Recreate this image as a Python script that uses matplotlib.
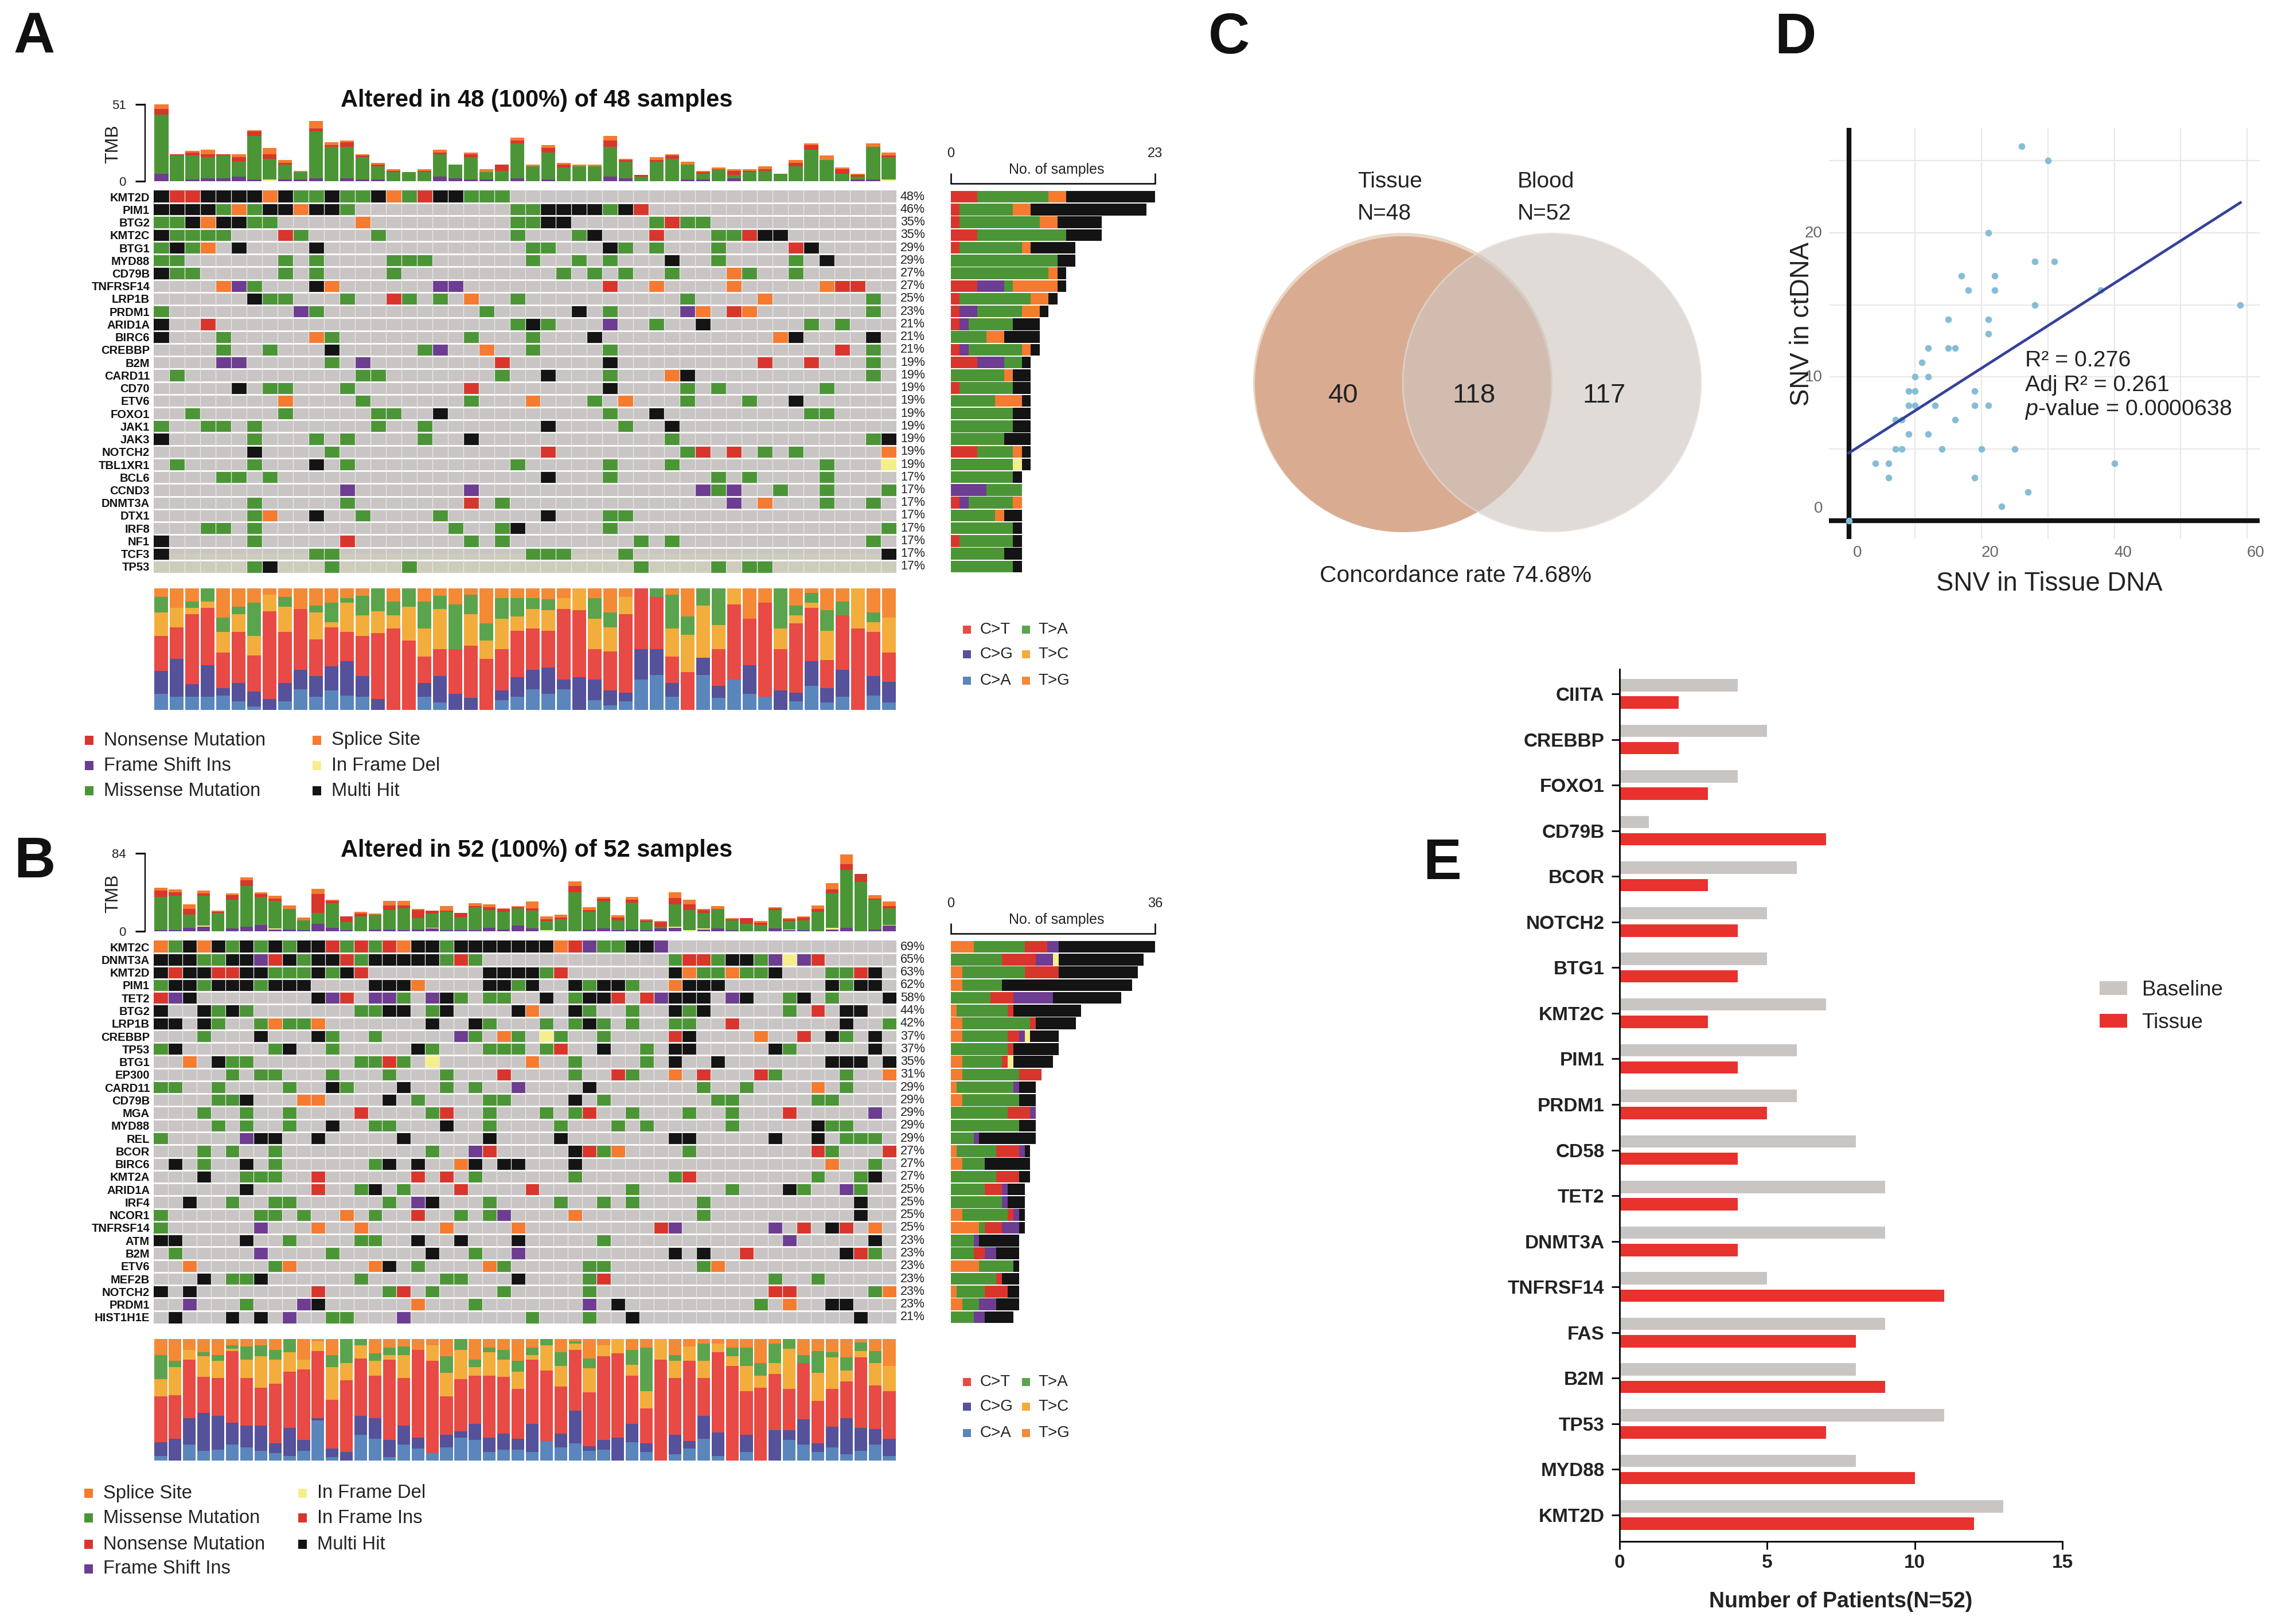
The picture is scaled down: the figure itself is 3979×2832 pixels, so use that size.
#!/usr/bin/env python
# oncoplots (A, B), venn (C), scatter (D), patient bars (E)
import numpy as np
import matplotlib
matplotlib.use("Agg")
import matplotlib.pyplot as plt
from matplotlib.colors import ListedColormap
from matplotlib.patches import Rectangle, Circle
from matplotlib.transforms import ScaledTranslation

plt.rcParams['font.family'] = ['Liberation Sans', 'DejaVu Sans']
plt.rcParams['mathtext.fontset'] = 'custom'
plt.rcParams['mathtext.rm'] = 'Liberation Sans'
plt.rcParams['mathtext.it'] = 'Liberation Sans:italic'

# ---- panel A data
a_genes = ["KMT2D","PIM1","BTG2","KMT2C","BTG1","MYD88","CD79B","TNFRSF14","LRP1B","PRDM1","ARID1A","BIRC6","CREBBP","B2M","CARD11",
           "CD70","ETV6","FOXO1","JAK1","JAK3","NOTCH2","TBL1XR1","BCL6","CCND3","DNMT3A","DTX1","IRF8","NF1","TCF3","TP53"]
a_pct = ["48%","46%","35%","35%","29%","29%","27%","27%","25%","23%","21%","21%","21%","19%","19%",
         "19%","19%","19%","19%","19%","19%","19%","17%","17%","17%","17%","17%","17%","17%","17%"]
# altered cells per gene: sample index + type (B multi hit, M missense, R nonsense, O splice, P frame shift, Y in frame del)
a_cells = [
 "0B 1R 2R 3B 4B 5B 6B 7O 8B 9M 10M 11B 12M 13M 14B 15O 16M 17R 18B 19B 20M 21M 22M",
 "0B 1B 2B 3B 4M 5O 6M 7B 8B 9O 10B 11B 12M 23M 24M 25B 26B 27B 28B 29M 30B 31R",
 "0M 1M 2B 3O 4B 5B 6M 7M 13O 23M 24M 25B 26B 32M 33R 34M 35M",
 "0B 1M 2M 3M 4M 8R 9M 14M 23M 27M 28B 32R 36M 37M 38R 39B 40B",
 "0M 1B 2M 3O 5B 10B 24M 25M 29B 30M 32M 36M 41R 42B",
 "0M 1M 8M 10M 15M 16M 17M 24M 27M 29M 33B 36M 41M 43B",
 "0B 1M 2M 8M 10M 15M 26M 28M 30M 33M 37O 38M 41M",
 "4O 5P 6M 10B 11O 18P 19P 29R 32O 37O 43O 44R 45R",
 "6B 7M 8M 12M 15R 16M 18M 20O 23M 34M 39O 46M",
 "0M 9P 10M 21M 27B 29M 34P 35O 37R 38O 46M",
 "0B 3R 23M 24B 25M 29P 32M 35B 42M 44M",
 "0B 4M 10O 11M 20M 24M 28B 40O 41B 46B",
 "4M 7M 11B 17M 18P 21O 24M 29M 44R 46M",
 "4P 5P 11M 13P 22R 29B 39R 42R 46M",
 "1M 13M 14M 22M 25B 29M 33O 34B 46M",
 "5B 7M 8M 12M 20R 29B 34M 36M 43M",
 "8O 13M 20M 24O 28M 30O 34M 38M 41B",
 "2M 8M 14M 15M 18B 29M 32B 42M 43M",
 "0M 3M 4M 6M 14M 17M 25B 30M 33B",
 "0B 6M 10M 12M 17M 20B 33M 46M 47B",
 "6B 11M 25R 34M 35R 37R 39M 41M 47O",
 "1M 6M 10B 12M 23M 29M 33M 43M 47Y",
 "4M 5M 7M 25B 29M 36M 38M 43M",
 "12P 20P 35P 36M 37P 40M 43M 47M",
 "6M 12M 20R 22M 37P 39O 43M 46M",
 "6M 7O 10B 13M 18M 25B 29M 30M",
 "3M 4M 6M 19M 22M 23B 29M 47M",
 "0B 6M 12R 20M 22M 31M 33M 46M",
 "0B 10M 11M 24M 25M 26M 30M 47B",
 "6M 7B 11M 16M 31M 36M 38M 39M",
]
a_side = ["R3 M8 O2 B10","R1 M6 O2 B13","R1 M9 O2 B5","R3 M10 B4","R1 M7 O1 B5","M12 B2","M11 O1 B1","R3 P3 M1 O5 B1","R1 M8 O2 B1","R1 P2 M5 O2 B1",
          "R1 P1 M5 B3","M4 O2 B4","R1 P1 M6 O1 B1","R3 P3 M2 B1","M6 O1 B2","R1 M6 B2","M5 O3 B1","M7 B2","M7 B2","M6 B3",
          "R3 M4 O1 B1","M7 Y1 B1","M7 B1","P4 M4","R1 P1 M5 O1","M5 O1 B2","M7 B1","R1 M6 B1","M6 B2","M7 B1"]
a_tmb_fs  = [5,0,1,2,2,3,1,0,1,1,2,0,2,1,1,0,0,0,3,2,1,1,0,2,0,1,0,0,0,3,2,0,0,0,1,1,0,2,0,0,0,0,0,0,0,1,1,0]
a_tmb_if  = [0,0,0,0,0,0,0,1,0,0,0,0,0,0,0,0,0,0,0,0,0,0,0,0,0,0,0,0,0,0,0,0,0,0,0,0,0,0,0,0,0,0,0,0,0,0,0,1]
a_tmb_mis = [39,17,16,14,15,10,29,14,10,5,31,23,21,15,9,6,6,6,15,9,15,5,7,23,10,18,9,10,10,20,11,3,13,15,10,4,8,2,6,7,5,10,21,14,5,2,22,15]
a_tmb_non = [4,1,2,2,1,3,3,3,1,0,2,1,3,1,1,1,0,1,1,0,2,0,4,2,0,3,2,0,0,4,1,1,1,2,0,1,0,3,1,1,0,2,3,0,3,1,0,1]
a_tmb_spl = [3,0,1,3,0,2,1,4,2,1,5,2,1,1,1,1,0,1,2,0,1,2,0,2,1,2,1,1,1,3,1,0,2,1,2,1,1,1,1,2,0,2,1,3,1,1,2,2]
# cumulative % tops per sample: C>A, C>G, C>T, T>C, T>A (T>G fills to 100)
a_titv = [[13,32,61,80,93],[11,42,68,84,84],[11,21,79,84,89],[11,37,84,89,100],[12,18,47,64,76],[7,22,64,79,85],[3,15,45,61,88],[0,9,81,95,95],
 [7,22,64,85,93],[17,33,83,83,83],[11,28,58,80,86],[16,36,68,72,88],[12,40,64,88,92],[11,28,61,78,94],[0,9,63,81,100],[0,0,67,78,89],
 [0,0,57,85,100],[11,22,44,67,89],[6,28,50,83,94],[0,13,50,50,87],[0,10,53,79,95],[0,0,42,57,71],[8,16,50,75,92],[11,27,65,77,92],
 [17,33,67,83,92],[13,35,65,82,91],[17,25,83,92,92],[0,27,82,100,100],[8,25,50,75,92],[4,16,48,68,80],[7,14,79,93,93],[25,50,100,100,100],
 [29,50,93,93,100],[11,22,44,67,95],[0,0,31,62,77],[29,43,43,86,100],[10,20,50,70,100],[25,25,87,100,100],[13,37,75,75,75],[11,11,88,88,88],
 [0,16,50,67,100],[7,14,71,78,86],[20,40,84,88,96],[6,18,41,65,82],[11,33,78,78,89],[0,0,67,100,100],[12,28,64,72,80],[6,23,47,76,76]]

# ---- panel B data
b_genes = ["KMT2C","DNMT3A","KMT2D","PIM1","TET2","BTG2","LRP1B","CREBBP","TP53","BTG1","EP300","CARD11","CD79B","MGA","MYD88",
           "REL","BCOR","BIRC6","KMT2A","ARID1A","IRF4","NCOR1","TNFRSF14","ATM","B2M","ETV6","MEF2B","NOTCH2","PRDM1","HIST1H1E"]
b_pct = ["69%","65%","63%","62%","58%","44%","42%","37%","37%","35%","31%","29%","29%","29%","29%",
         "29%","27%","27%","27%","25%","25%","25%","25%","23%","23%","23%","23%","23%","23%","21%"]
b_cells = [
 "0O 1M 2B 3O 4B 5M 6B 7M 8B 9M 10B 11B 12R 13M 14R 15M 16R 17O 18B 19B 20M 21B 22B 23B 24B 25B 26B 27B 28O 29R 30P 31M 32M 33B 34B 35P",
 "0B 1B 2B 3M 4M 5B 6B 7P 8R 9B 10M 11B 12B 13R 14M 15B 16B 17B 18B 19B 20M 21R 22M 36M 37R 38R 39M 40B 41B 42M 43P 44Y 45P 46R",
 "0B 1R 2B 3B 4R 5R 6B 7B 8M 9M 10M 11B 12M 13B 14R 23B 24B 25B 26B 27M 28R 36B 37O 38M 39M 40O 41M 42M 43B 47M 48M 49R 50B",
 "0M 1B 2B 3M 4B 5B 6B 7M 8B 9B 10B 15B 16B 17B 18O 23B 24B 25M 26B 29B 30M 31B 32B 33M 36O 37B 38B 39B 47B 48M 49B 50B",
 "0R 1P 2B 11B 12P 13R 15P 16P 17M 19P 20B 21M 23M 24M 27B 29M 30B 31B 32R 34R 35P 36B 37B 38B 40P 41B 44M 45B 47M 51B",
 "0B 3B 4M 5B 6M 14M 15M 16B 17B 19M 20B 25B 26O 29B 30M 33M 36B 37M 38B 44M 46R 48B 49B",
 "0B 1B 3B 4M 7M 8O 9M 10M 11O 19B 22B 23M 27M 29M 30B 31M 33M 36M 37M 40R 48B 51M",
 "3M 7B 11B 12M 15M 21P 22M 24O 25M 27Y 28M 31M 36R 37B 42O 45R 47B 48M 50B",
 "0M 1B 8M 9B 12M 18B 19M 23M 24M 25M 27M 28R 31B 34M 36B 37B 43B 44M 50B",
 "2O 4B 5M 6M 14M 15M 16R 17M 19Y 26O 29M 34M 36B 39B 47B 48B 49B 51B",
 "5M 7M 8M 12M 16M 20M 24R 29M 32R 33M 36O 38R 42R 43M 48M 51O",
 "0M 1M 4M 9M 12B 13M 17B 20M 22M 25P 30B 38M 41M 46O 48M",
 "4M 5M 6B 10O 11O 16B 18M 23M 24M 29B 31M 39M 40M 46M 47M",
 "3M 6M 9M 14R 19M 20R 23M 27M 29M 30R 33M 37M 40M 44R 50P",
 "4M 6M 9M 12B 15M 16M 20B 23M 28M 32M 34M 40M 46B 47M 48M",
 "0M 6P 7B 8B 11B 17B 23B 28B 36B 37B 43B 46B 48M 49M 50M",
 "3M 5M 8M 19M 22P 23R 29B 30R 31M 32O 37M 46R 47M 51R",
 "1B 3M 6B 8M 15M 16B 18B 21O 22B 24B 25B 29B 47O 50M",
 "3B 6M 7M 8M 11R 18R 20R 22M 29M 36M 37R 46M 49M 50B",
 "6B 11R 14M 15B 17M 21R 26R 33M 40M 44B 45M 48P 49M",
 "2B 5M 8M 9M 16M 18P 19B 23M 28M 31M 33M 38M 49B",
 "0M 7M 8M 10M 13O 15M 18R 21M 23M 24P 29O 38M 49B",
 "0M 7P 11O 14O 20O 25O 35R 36P 43P 45R 47B 48R 50O",
 "0B 1B 6B 9M 14M 15M 18B 21B 25B 31M 44P 50B",
 "1M 7P 12M 19B 22M 25P 36B 38B 41R 48B 49R 50M",
 "2O 8M 9O 15O 16B 18M 23O 24M 30M 31M 38M 39O",
 "3B 5M 6M 7B 14M 20M 21M 25B 30M 31R 43M 46M",
 "0B 2B 11R 16M 17R 19M 24M 30M 43R 44R 50M 51O",
 "2P 6M 10P 11B 18O 22M 30P 32B 42M 44O 47B 48B",
 "1B 5B 7B 9P 12M 13M 17P 26M 30M 33B 49B",
]
b_side = ["O4 M9 R4 P2 B17","M9 R6 P3 Y1 B15","O2 M11 R6 B14","O2 M7 B23","M7 R4 P7 B12","O1 M9 R1 B12","O2 M12 R1 B7","O2 M8 R2 P1 Y1 B5","M10 R1 B8","O2 M7 R1 Y1 B7",
          "O2 M10 R4","O1 M10 P1 B3","O2 M10 B3","M10 R4 P1","M12 B3","M4 P1 B10","O1 M7 R4 P1 B1","O2 M4 B8","M8 R4 B2","M6 R3 P1 B3",
          "M9 P1 B3","O2 M8 R1 P1 B1","O5 M1 R3 P3 B1","M4 P1 B7","M4 R2 P2 B4","O5 M6 B1","M8 R1 B3","O1 M5 R4 B2","O2 M3 P3 B4","M4 P2 B5"]
b_tmb_fs  = [1,1,4,5,0,3,5,7,2,2,1,8,4,1,0,2,2,1,2,3,1,1,1,4,2,6,3,0,0,0,2,3,1,2,1,3,4,0,2,3,1,0,0,3,1,1,0,2,4,0,2,6]
b_tmb_if  = [0,0,0,1,0,0,0,0,1,0,0,0,0,0,0,0,0,0,0,1,0,0,0,0,0,0,0,1,0,0,0,0,0,0,0,0,1,1,1,0,0,0,0,0,1,0,0,2,0,0,0,1]
b_tmb_mis = [36,37,14,32,20,31,44,30,30,22,11,12,26,9,16,16,21,24,12,15,20,14,25,19,19,19,19,10,13,42,19,29,11,29,9,2,24,22,17,21,11,8,7,20,9,11,21,37,62,53,32,18]
b_tmb_non = [7,4,6,3,1,5,6,3,2,0,0,20,3,6,3,0,5,3,9,3,1,5,1,3,3,1,3,2,2,7,2,3,3,3,2,5,7,6,3,0,1,6,2,2,2,3,3,4,6,9,1,2]
b_tmb_spl = [3,3,5,3,1,2,3,2,3,4,3,6,1,0,2,1,5,5,1,0,5,0,3,3,1,1,7,3,3,5,3,2,2,3,1,1,6,5,1,3,1,0,2,1,1,1,4,7,11,0,4,5]
b_titv = [[4,15,53,67,87],[0,18,54,77,82],[13,35,83,91,91],[8,39,69,86,89],[9,37,68,82,87],[13,31,90,92,95],[11,29,68,83,94],[8,29,60,86,95],
 [6,14,63,83,91],[4,27,73,89,100],[8,17,75,83,83],[33,35,90,98,98],[3,10,50,77,87],[0,7,66,80,100],[21,37,84,95,100],[18,35,70,82,88],
 [3,17,83,87,93],[13,29,68,87,94],[10,19,91,91,91],[6,6,82,95,95],[11,21,53,72,86],[19,24,67,91,100],[17,30,70,77,83],[7,19,70,89,93],
 [9,22,69,83,91],[9,18,59,73,82],[7,30,83,87,93],[16,16,74,95,100],[11,22,61,78,89],[14,41,91,96,98],[8,12,56,76,84],[9,17,86,95,95],
 [0,19,88,100,100],[15,30,70,79,91],[7,14,43,57,93],[0,0,83,100,100],[5,21,68,82,87],[10,16,82,94,94],[18,37,68,82,96],[4,23,89,96,96],
 [0,0,78,86,93],[7,21,57,78,93],[0,0,60,70,80],[0,25,71,80,96],[17,25,59,92,100],[13,34,80,80,87],[7,14,49,72,90],[11,28,59,85,89],
 [5,35,65,74,85],[8,27,85,90,97],[13,26,62,80,90],[4,18,57,78,78]]

# ---- panel C
venn_counts = ["40", "118", "117"]

# ---- panel D
snv_tissue = [26,30,21,28,31,17,22,18,22,38,28,59,15,21,21,12,15,16,11,10,12,9,10,19,9,10,13,19,21,7,8,16,9,12,7,8,14,20,25,4,6,40,6,19,27,23,0]
snv_ctdna  = [26,25,20,18,18,17,17,16,16,16,15,15,14,14,13,12,12,12,11,10,10,9,9,9,8,8,8,8,8,7,7,7,6,6,5,5,5,5,5,4,4,4,3,3,2,1,0]
fit_x = [0, 59]
fit_y = [4.7, 22.1]

# ---- panel E
e_genes = ["CIITA","CREBBP","FOXO1","CD79B","BCOR","NOTCH2","BTG1","KMT2C","PIM1","PRDM1","CD58","TET2","DNMT3A","TNFRSF14","FAS","B2M","TP53","MYD88","KMT2D"]
e_baseline = [4,5,4,1,6,5,5,7,6,6,8,9,9,5,9,8,11,8,13]
e_tissue   = [2,2,3,7,3,4,4,3,4,5,4,4,4,11,8,9,7,10,12]

# ---- colours
BG = "#c9c5c4"
BEIGE = "#cdccbd"
MUT = {"M": "#4c9537", "R": "#d8362d", "B": "#141414", "O": "#f47b30", "P": "#6d3d91", "Y": "#f5ef8b"}
TITV = ["#5a86bc", "#55519a", "#e84a45", "#f3ad3c", "#5ca34d", "#f48a36"]
CODES = "MROBPY"

W, H = 3979, 2832
fig = plt.figure(figsize=(W / 100, H / 100), dpi=100)


def ax_px(x0, y0, x1, y1):
    return fig.add_axes([x0 / W, 1 - y1 / H, (x1 - x0) / W, (y1 - y0) / H])


# pixel overlay for letters, free text and hand built legends
ov = fig.add_axes([0, 0, 1, 1], zorder=5)
ov.set_xlim(0, W)
ov.set_ylim(H, 0)
ov.axis("off")
ov.patch.set_alpha(0)


def parse_matrix(cells, ncol):
    mat = np.zeros((len(cells), ncol))
    for i, row in enumerate(cells):
        for tok in row.split():
            mat[i, int(tok[:-1])] = CODES.index(tok[-1]) + 1
    return mat


def oncopanel(top, genes, pct, cells, side, tmb, tmb_max, titv, side_max, title, beige_from=None):
    n = len(tmb[0])
    x0, x1 = 268, 1563
    # TMB stack on top
    ax = ax_px(x0, top["tmb"][0], x1, top["tmb"][1])
    bottom = np.zeros(n)
    for vals, c in zip(tmb, [MUT["P"], MUT["Y"], MUT["M"], MUT["R"], MUT["O"]]):
        ax.bar(np.arange(n), vals, bottom=bottom, width=0.9, color=c, linewidth=0)
        bottom += np.array(vals)
    ax.set_xlim(-0.5, n - 0.5)
    ax.set_ylim(0, tmb_max)
    ax.set_xticks([])
    ax.set_yticks([0, tmb_max])
    ax.set_yticklabels(["0", str(tmb_max)])
    ax.tick_params(axis="y", length=12, width=2.2, pad=12, labelsize=16, labelcolor="#222222")
    for s in ["top", "right", "bottom"]:
        ax.spines[s].set_visible(False)
    ax.spines["left"].set_position(("outward", 10.8))
    ax.spines["left"].set_linewidth(1.6)
    ax.patch.set_alpha(0)
    ov.text(197, (top["tmb"][0] + top["tmb"][1]) / 2 + 2, "TMB", rotation=90, fontsize=23, ha="center", va="center", color="#222222")
    ov.text(936, top["title"], title, fontsize=30, fontweight="bold", ha="center", va="center", color="#111111")

    # main matrix
    ax = ax_px(x0, top["cells"][0], x1, top["cells"][1])
    ax.set_facecolor(BG)
    if beige_from is not None:
        ax.axhspan(beige_from, len(genes) - 0.5, color=BEIGE, lw=0)
    mat = parse_matrix(cells, n)
    cmap = ListedColormap([MUT[c] for c in CODES])
    ax.pcolormesh(np.arange(n + 1) - 0.5, np.arange(len(genes) + 1) - 0.5, np.ma.masked_equal(mat, 0), cmap=cmap, vmin=1, vmax=6, zorder=2)
    ax.hlines(np.arange(1, len(genes)) - 0.5, -0.5, n - 0.5, color="white", lw=2.0, zorder=3)
    ax.vlines(np.arange(1, n) - 0.5, -0.5, len(genes) - 0.5, color="#e9e7e7", lw=0.9, zorder=3)
    ax.set_xlim(-0.5, n - 0.5)
    ax.set_ylim(len(genes) - 0.5, -0.5)
    ax.set_xticks([])
    ax.set_yticks(np.arange(len(genes)))
    ax.set_yticklabels(genes)
    ax.tick_params(axis="y", length=0, pad=5, labelsize=14.5, labelcolor="#111111")
    for lab in ax.get_yticklabels():
        lab.set_fontweight("bold")
    for s in ax.spines.values():
        s.set_visible(False)
    for i, p in enumerate(pct):
        ax.text(1.0054, i, p, transform=ax.get_yaxis_transform(), fontsize=15.5, va="center", ha="left", color="#222222")

    # side bars
    ax = ax_px(1658, top["cells"][0], 2014, top["cells"][1])
    for i, row in enumerate(side):
        left = 0
        for tok in row.split():
            v = int(tok[1:])
            ax.barh(i, v, left=left, height=0.92, color=MUT[tok[0]], linewidth=0)
            left += v
    ax.set_xlim(0, side_max)
    ax.set_ylim(len(genes) - 0.5, -0.5)
    ax.set_yticks([])
    ax.xaxis.tick_top()
    ax.set_xticks([0, side_max])
    ax.set_xticklabels(["0", str(side_max)])
    ax.tick_params(axis="x", length=13, width=1.8, pad=16, labelsize=17, labelcolor="#222222")
    for s in ["left", "right", "bottom"]:
        ax.spines[s].set_visible(False)
    ax.spines["top"].set_position(("outward", 9))
    ax.spines["top"].set_linewidth(1.8)
    ax.patch.set_alpha(0)
    ov.text(1842, top["nosamp"], "No. of samples", fontsize=18, ha="center", va="center", color="#222222")

    # titv stack
    ax = ax_px(x0, top["titv"][0], x1, top["titv"][1])
    tops = np.array(titv, dtype=float)
    tops = np.column_stack([np.zeros(n), tops, np.full(n, 100.0)])
    for k, c in enumerate(TITV):
        ax.bar(np.arange(n), tops[:, k + 1] - tops[:, k], bottom=tops[:, k], width=0.89, color=c, linewidth=0)
    ax.set_xlim(-0.5, n - 0.5)
    ax.set_ylim(0, 100)
    ax.axis("off")


a_layout = {"tmb": (182, 316), "title": 175, "cells": (332, 999), "nosamp": 296, "titv": (1026, 1238)}
b_layout = {"tmb": (1488, 1624), "title": 1483, "cells": (1640, 2308), "nosamp": 1604, "titv": (2335, 2547)}
oncopanel(a_layout, a_genes, a_pct, a_cells, a_side, [a_tmb_fs, a_tmb_if, a_tmb_mis, a_tmb_non, a_tmb_spl], 51, a_titv, 23,
          "Altered in 48 (100%) of 48 samples", beige_from=28.0)
oncopanel(b_layout, b_genes, b_pct, b_cells, b_side, [b_tmb_fs, b_tmb_if, b_tmb_mis, b_tmb_non, b_tmb_spl], 84, b_titv, 36,
          "Altered in 52 (100%) of 52 samples")

# legends under and beside the oncoplots
titv_names = [("C>T", TITV[2]), ("C>G", TITV[1]), ("C>A", TITV[0]), ("T>A", TITV[4]), ("T>C", TITV[3]), ("T>G", TITV[5])]
for ys in [(1098, 1141, 1187), (2410, 2453, 2499)]:
    for i, (name, c) in enumerate(titv_names):
        x = 1686 if i < 3 else 1789
        y = ys[i % 3]
        ov.add_patch(Rectangle((x - 7, y - 7), 14, 14, color=c, lw=0))
        ov.text(x + (23 if i < 3 else 21), y, name, fontsize=20, va="center", color="#222222")

leg_a = [("Nonsense Mutation", "R", 148, 1291), ("Frame Shift Ins", "P", 148, 1335), ("Missense Mutation", "M", 148, 1379),
         ("Splice Site", "O", 545, 1291), ("In Frame Del", "Y", 545, 1335), ("Multi Hit", "B", 545, 1379)]
leg_b = [("Splice Site", "O", 147, 2604), ("Missense Mutation", "M", 147, 2647), ("Nonsense Mutation", "R", 147, 2693), ("Frame Shift Ins", "P", 147, 2736),
         ("In Frame Del", "Y", 520, 2604), ("In Frame Ins", "R", 520, 2647), ("Multi Hit", "B", 520, 2693)]
for name, k, x, y in leg_a + leg_b:
    ov.add_patch(Rectangle((x, y - 8), 15, 16, color=MUT[k], lw=0))
    ov.text(x + 33, y, name, fontsize=23.6, va="center", color="#222222")

# panel letters
for letter, x, y in [("A", 60, 66), ("B", 60, 1504), ("C", 2143, 67), ("D", 3130, 67), ("E", 2515, 1507)]:
    ov.text(x, y, letter, fontsize=72, fontweight="bold", ha="center", va="center", color="#111111")

# ---- C venn
vn = ax_px(2100, 380, 3040, 960)
vn.set_xlim(2100, 3040)
vn.set_ylim(960, 380)
vn.axis("off")
vn.add_patch(Circle((2446, 667), 261, facecolor="#e9d8c6", edgecolor="none"))
vn.add_patch(Circle((2446, 670), 258, facecolor="#d9ac92", edgecolor="none"))
vn.add_patch(Circle((2706, 667), 260, facecolor=(206 / 255, 198 / 255, 193 / 255, 0.63), edgecolor=(0.9, 0.88, 0.87, 0.6), lw=2))
ov.text(2367, 317, "Tissue", fontsize=28, va="center", color="#222222")
ov.text(2367, 373, "N=48", fontsize=28, va="center", color="#222222")
ov.text(2646, 317, "Blood", fontsize=28, va="center", color="#222222")
ov.text(2646, 373, "N=52", fontsize=28, va="center", color="#222222")
for t, x in zip(venn_counts, [2342, 2570, 2797]):
    ov.text(x, 690, t, fontsize=34, ha="center", va="center", color="#222222")
ov.text(2538, 1004, "Concordance rate 74.68%", fontsize=29.3, ha="center", va="center", color="#222222")

# ---- D scatter
ax = ax_px(3189, 223, 3940, 940)
ax.set_xlim(-2.99, 61.9)
ax.set_ylim(-1.27, 27.29)
ax.set_xticks(np.arange(0, 61, 10))
ax.set_yticks(np.arange(0, 26, 5))
ax.grid(color="#ebe7e7", lw=1.6)
ax.set_axisbelow(True)
ax.set_xticklabels(["0", "", "20", "", "40", "", "60"], fontsize=20, color="#666666")
ax.set_yticklabels(["0", "", "10", "", "20", ""], fontsize=20, color="#666666")
ax.tick_params(length=0, pad=8)
for lab in ax.get_xticklabels():
    lab.set_transform(lab.get_transform() + ScaledTranslation(15 / 100, 0, fig.dpi_scale_trans))
for lab, dy in zip(ax.get_yticklabels(), [24, 0, 2, 0, 2, 0]):
    lab.set_transform(lab.get_transform() + ScaledTranslation(0, dy / 100, fig.dpi_scale_trans))
for s in ax.spines.values():
    s.set_visible(False)
ax.axhline(0, color="#111111", lw=6)
ax.axvline(0, color="#111111", lw=6)
ax.scatter(snv_tissue, snv_ctdna, s=70, color="#86bdd6", linewidth=0, zorder=4, clip_on=False)
ax.plot(fit_x, fit_y, color="#34429a", lw=3.4, zorder=5)
ax.patch.set_alpha(0)
for t, y in zip(["R² = 0.276", "Adj R² = 0.261", r"$\it{p}$-value = 0.0000638"], [629, 672, 714]):
    ov.text(3531, y, t, fontsize=28.3, va="center", color="#222222")
ov.text(3573, 1018, "SNV in Tissue DNA", fontsize=32.8, ha="center", va="center", color="#222222")
ov.text(3142, 565, "SNV in ctDNA", fontsize=32.8, rotation=90, ha="center", va="center", color="#222222")

# ---- E bars
ax = ax_px(2824, 1167, 3596, 2688)
ypos = np.arange(len(e_genes))[::-1]
ax.barh(ypos + 0.19, e_baseline, height=0.27, color="#c9c5c3", label="Baseline", linewidth=0)
ax.barh(ypos - 0.19, e_tissue, height=0.27, color="#e8322d", label="Tissue", linewidth=0)
ax.set_xlim(0, 15)
ax.set_ylim(-0.578, 18.54)
ax.set_yticks(ypos)
ax.set_yticklabels(e_genes, fontsize=24, fontweight="bold", color="#222222")
ax.set_xticks([0, 5, 10, 15])
ax.set_xticklabels(["0", "5", "10", "15"], fontsize=24, fontweight="bold", color="#222222")
ax.set_xlabel("Number of Patients(N=52)", fontsize=27, fontweight="bold", color="#222222", labelpad=24)
ax.tick_params(length=10, width=2, pad=9)
ax.tick_params(axis="x", pad=6)
for s in ["top", "right"]:
    ax.spines[s].set_visible(False)
for s in ["left", "bottom"]:
    ax.spines[s].set_linewidth(2)
ax.patch.set_alpha(0)
fig.legend(*ax.get_legend_handles_labels(), loc="upper left", bbox_to_anchor=(3661 / W, 1 - 1709 / H), frameon=False, fontsize=26.5,
           handlelength=1.3, handleheight=0.6, labelspacing=0.6, handletextpad=0.7, borderpad=0, borderaxespad=0, labelcolor="#222222")

fig.savefig("out.png", dpi=100, facecolor="white")
